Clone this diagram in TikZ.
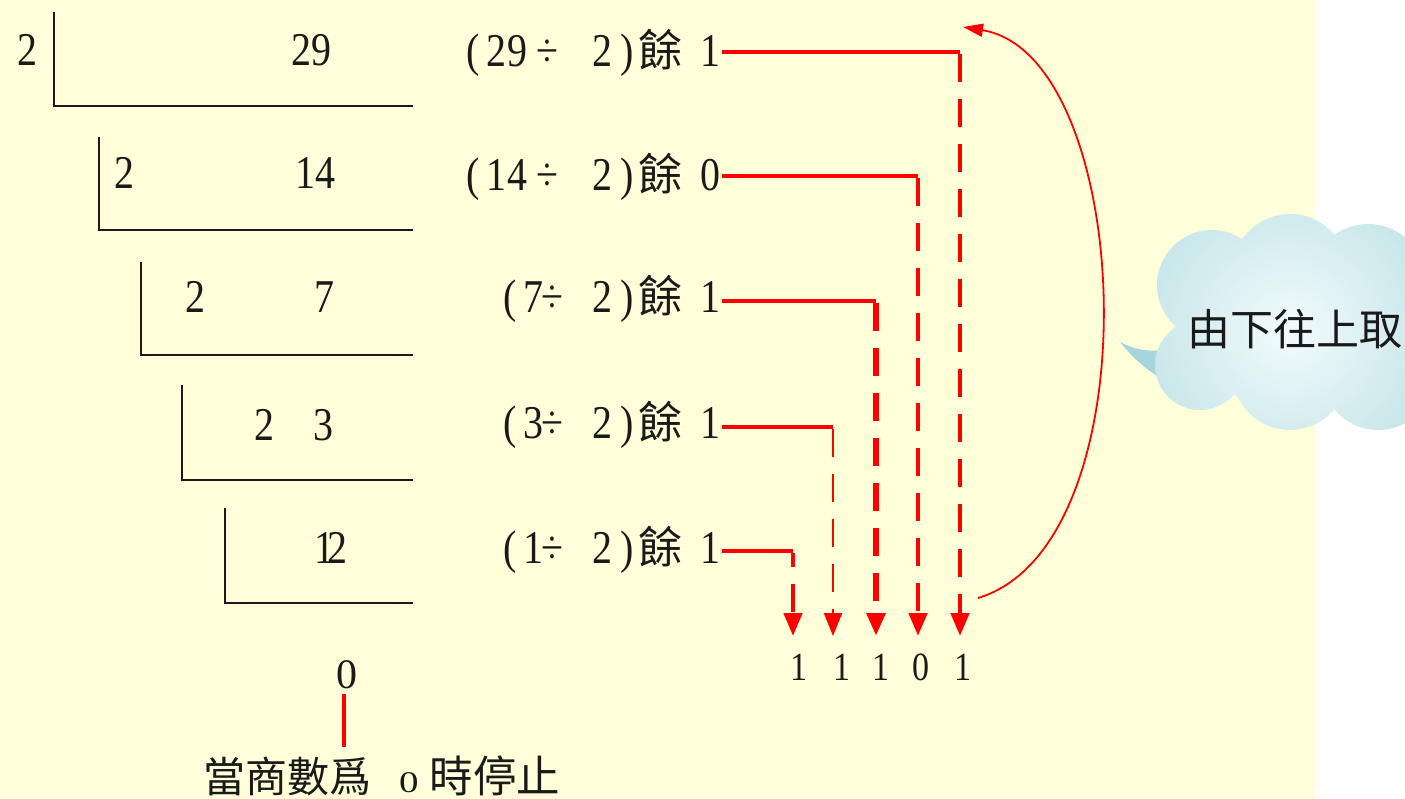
\documentclass[tikz,border=0pt]{standalone}
\usepackage{fontspec}
\setmainfont{Liberation Serif}
\newfontfamily\dg[FakeStretch=0.85]{Liberation Serif}
\newfontfamily\wdg[FakeStretch=1.3]{Liberation Serif}
\newfontfamily\cjk{Noto Sans CJK TC}
\usetikzlibrary{arrows.meta}
\definecolor{bgyellow}{HTML}{FFFFDA}
\definecolor{cloudout}{HTML}{A6D6DB}
\definecolor{cloudin}{HTML}{F2FBFC}
\definecolor{ink}{HTML}{1A1A1A}
\newcommand\yuchar{{\cjk\fontsize{44}{46}\selectfont 餘}}
\newcommand\pc[2]{\kern#1\makebox[0pt]{#2}}
% two-digit dividend: ( a b ÷ 2 ) 餘 r
\newcommand\qlblA[3]{\pc{10.5pt}{\dg(}\pc{23pt}{\dg #1}\pc{21pt}{\dg #2}\pc{30.5pt}{\dg ÷}\pc{54.5pt}{\dg 2}\pc{25pt}{\dg)}\pc{33.5pt}{\yuchar}\pc{50pt}{\dg #3}\kern9pt\relax}
% one-digit dividend: ( a ÷ 2 ) 餘 r
\newcommand\qlblB[2]{\pc{47pt}{\dg(}\pc{23.5pt}{\dg #1}\pc{19pt}{\dg ÷}\pc{50pt}{\dg 2}\pc{25pt}{\dg)}\pc{33.5pt}{\yuchar}\pc{50pt}{\dg #2}\kern9pt\relax}
\begin{document}
\begin{tikzpicture}[x=1pt,y=-1pt,
  divline/.style={draw=ink, line width=2pt},
  numtxt/.style={inner sep=0pt, anchor=base, font=\dg\fontsize{47}{50}\selectfont, text=ink},
  lbl/.style={inner sep=0pt, anchor=base east, font=\fontsize{47}{50}\selectfont, text=ink},
  bit/.style={inner sep=0pt, anchor=base, font=\dg\fontsize{40}{44}\selectfont, text=ink},
  redh/.style={draw=red, line width=4.5pt},
  redv/.style={draw=red, dash pattern=on 28pt off 17pt, -{Triangle[length=23pt,width=18pt]}},
  ]
\useasboundingbox (0,0) rectangle (1405,799);
\fill[bgyellow] (0,0) rectangle (1315,799);
\fill[white] (1315,0) rectangle (1405,799);

% cloud
\fill[cloudout] (1120,342) .. controls (1135,350) and (1150,352) .. (1165,350)
   -- (1178,386) .. controls (1160,380) and (1138,365) .. cycle;
\begin{scope}
\clip (1200,365) circle (45) (1212,285) circle (55) (1290,272) circle (58)
      (1368,282) circle (58) (1300,330) ellipse (112 and 80)
      (1290,372) circle (58) (1378,373) circle (57);
\shade[inner color=cloudin, outer color=cloudout] (1290,330) circle (260);
\end{scope}
\node[inner sep=0pt, font=\cjk\fontsize{43}{45}\selectfont, text=ink] (cloudtxt) at (1295,329) {由下往上取};

% division ladder
\draw[divline] (54,12) -- (54,106) -- (413,106);
\draw[divline] (99,137) -- (99,230) -- (413,230);
\draw[divline] (141,262) -- (141,355) -- (413,355);
\draw[divline] (182,385) -- (182,480) -- (413,480);
\draw[divline] (225,508) -- (225,603) -- (413,603);

\node[numtxt] (d1) at (27,66) {2};
\node[numtxt] (n1) at (311,66) {29};
\node[numtxt] (d2) at (124,189) {2};
\node[numtxt] (n2) at (315,189) {14};
\node[numtxt] (d3) at (195,313) {2};
\node[numtxt] (n3) at (324,313) {7};
\node[numtxt] (d4) at (264,440) {2};
\node[numtxt] (n4) at (323,440) {3};
\node[numtxt] (n5) at (331,563) {1\kern-7pt 2};

\node[inner sep=0pt, anchor=base, font=\fontsize{42}{44}\selectfont, text=ink] (zero) at (347,688) {0};
\node[inner sep=0pt, anchor=base west, font=\fontsize{42}{44}\selectfont, text=ink] (stop) at (203,792)
   {{\cjk 當商數爲}\hspace{28pt}{\wdg\fontsize{30}{32}\selectfont 0}\hspace{11pt}{\cjk\fontsize{43.5}{45}\selectfont 時停止}};
\coordinate (zl) at (344,747);
\draw[draw=red, line width=4pt] ([yshift=-5pt]zero.south -| zl) -- (zl);

% remainder labels
\node[lbl] (q1) at (720,67) {\qlblA{2}{9}{1}};
\node[lbl] (q2) at (720,191) {\qlblA{1}{4}{0}};
\node[lbl] (q3) at (720,313) {\qlblB{7}{1}};
\node[lbl] (q4) at (720,438) {\qlblB{3}{1}};
\node[lbl] (q5) at (720,563) {\qlblB{1}{1}};

\coordinate (h1) at (960,52);
\coordinate (h2) at (918,176);
\coordinate (h3) at (876,301);
\coordinate (h4) at (833,427);
\coordinate (h5) at (793,551);
\coordinate (t1) at (960,636);
\coordinate (t2) at (918,636);
\coordinate (t3) at (876,636);
\coordinate (t4) at (833,636);
\coordinate (t5) at (793,636);

\draw[redh] ([xshift=2pt]q1.east |- h1) -- (h1);
\draw[redh] ([xshift=2pt]q2.east |- h2) -- (h2);
\draw[redh] ([xshift=2pt]q3.east |- h3) -- (h3);
\draw[redh, line width=3.5pt] ([xshift=2pt]q4.east |- h4) -- (h4);
\draw[redh] ([xshift=2pt]q5.east |- h5) -- (h5);

\draw[redv, line width=4.5pt] ([yshift=-2.25pt]h1) -- (t1);
\draw[redv, line width=4.5pt] ([yshift=-2.25pt]h2) -- (t2);
\draw[redv, line width=6pt] ([yshift=-2.25pt]h3) -- (t3);
\draw[redv, line width=2pt] ([yshift=-1.75pt]h4) -- (t4);
\draw[redv, line width=4.5pt, dash phase=14pt] ([yshift=-2.25pt]h5) -- (t5);

\node[bit] (b1) at (799,680) {1};
\node[bit] (b2) at (842,680) {1};
\node[bit] (b3) at (881,680) {1};
\node[bit] (b4) at (921,680) {0};
\node[bit] (b5) at (963,680) {1};

% curved arrow
\coordinate (cs) at (978,598);
\coordinate (ce) at (963,27);
\draw[red, line width=1.8pt, -{Triangle[length=20pt,width=13pt]}] (cs) .. controls (1155,545) and (1135,55) .. (ce);
\end{tikzpicture}
\end{document}
